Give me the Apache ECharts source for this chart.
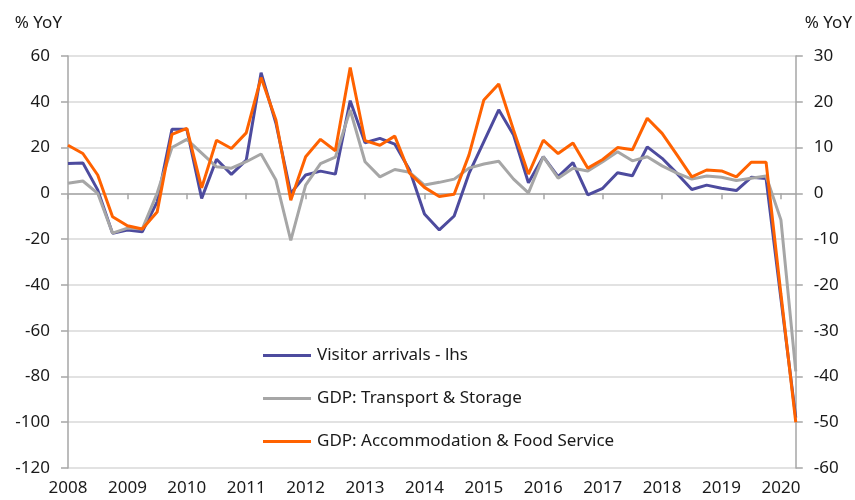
<!DOCTYPE html>
<html>
<head>
<meta charset="utf-8">
<script src="https://cdn.jsdelivr.net/npm/echarts@6/dist/echarts.min.js"></script>
<style>
  html, body { margin: 0; padding: 0; background: #fff; }
  #chart { width: 855px; height: 500px; }
</style>
</head>
<body>
<div id="chart"></div>
<script>
// quarterly, 2008 Q1 .. 2020 Q2
const quarters = []
for (let y = 2008; y <= 2020; y++) {
  for (let q = 1; q <= 4; q++) {
    if (y === 2020 && q > 2) break
    quarters.push(y + ' Q' + q)
  }
}

// % YoY, left axis
const visitorArrivals = [
  13, 13.3, 1.5, -17.5, -16, -16.8, -3.7, 28, 28, -2.2,
  14.9, 8.3, 14.5, 52.7, 30.6, 0, 8, 9.7, 8.4, 40.5,
  22.1, 24, 21.5, 10.2, -9, -16, -9.9, 8.7, 22.6, 36.5,
  25.5, 4.6, 16, 7.3, 13.4, -0.7, 2.2, 9, 7.7, 20.3,
  15.3, 8.7, 1.7, 3.6, 2.2, 1.2, 7, 6.5, -46, -98
]

// % YoY, right axis
const gdpTransport = [
  2.2, 2.7, 0, -8.7, -7.6, -7.8, 0, 10.0, 11.8, 8.8,
  5.8, 5.5, 6.9, 8.6, 2.9, -10.3, 1.8, 6.5, 7.9, 18.2,
  6.9, 3.6, 5.2, 4.6, 1.8, 2.4, 3.1, 5.5, 6.4, 7.0,
  3.1, 0.1, 8.0, 3.3, 5.5, 4.9, 6.9, 9.1, 7.1, 8.0,
  6.0, 4.4, 3.1, 3.8, 3.5, 2.8, 3.3, 3.8, -5.8, -38.9
]

const gdpAccommodation = [
  10.5, 8.7, 4.0, -5.1, -7.1, -7.8, -4.1, 12.9, 14.2, 1.2,
  11.6, 9.8, 13.2, 25.3, 16.0, -1.5, 8.0, 11.8, 9.3, 27.5,
  11.5, 10.5, 12.5, 4.4, 1.3, -0.7, -0.2, 8.4, 20.4, 23.9,
  13.8, 4.2, 11.6, 8.7, 11.0, 5.5, 7.4, 10.0, 9.5, 16.4,
  13.1, 8.4, 3.6, 5.1, 4.9, 3.6, 6.8, 6.8, -22, -50
]

const seriesNames = ['Visitor arrivals - lhs', 'GDP: Transport & Storage', 'GDP: Accommodation & Food Service']

const font = '"Noto Sans", sans-serif'
const textColor = '#1a1a1a'
const axisGrey = '#a6a6a6'

const chart = echarts.init(document.getElementById('chart'))

chart.setOption({
  backgroundColor: '#fff',
  animation: false,
  textStyle: { fontFamily: font },
  grid: { left: 68, right: 56, top: 56, bottom: 32 },
  legend: {
    data: seriesNames,
    orient: 'vertical',
    left: 258,
    top: 342,
    itemWidth: 48,
    itemHeight: 3,
    itemGap: 26,
    icon: 'rect',
    textStyle: { color: textColor, fontSize: 17, fontFamily: font, padding: [0, 0, 0, 1] }
  },
  xAxis: [
    {
      type: 'category',
      data: quarters,
      boundaryGap: false,
      position: 'bottom',
      axisLine: { show: false, onZero: false },
      axisTick: { show: false },
      axisLabel: {
        interval: 3,
        color: textColor,
        fontSize: 17,
        margin: 12,
        formatter: v => v.slice(0, 4)
      }
    },
    {
      type: 'category',
      data: quarters,
      boundaryGap: false,
      position: 'bottom',
      axisLine: { show: true, onZero: true, lineStyle: { color: axisGrey, width: 1.5 } },
      axisTick: { show: true, interval: 3, length: 6, lineStyle: { color: axisGrey, width: 1.5 } },
      axisLabel: { show: false }
    }
  ],
  yAxis: [
    {
      type: 'value',
      min: -120,
      max: 60,
      interval: 20,
      name: '% YoY',
      nameLocation: 'end',
      nameGap: 24,
      nameTextStyle: { color: textColor, fontSize: 17, align: 'right', padding: [0, 6, 0, 0] },
      axisLine: { show: true, lineStyle: { color: axisGrey, width: 1.5 } },
      axisTick: { show: true, length: 7, lineStyle: { color: axisGrey, width: 1.5 } },
      axisLabel: { color: textColor, fontSize: 17, margin: 18 },
      splitLine: { lineStyle: { color: '#d9d9d9', width: 1.5 } }
    },
    {
      type: 'value',
      min: -60,
      max: 30,
      interval: 10,
      position: 'right',
      name: '% YoY',
      nameLocation: 'end',
      nameGap: 24,
      nameTextStyle: { color: textColor, fontSize: 17, align: 'left', padding: [0, 0, 0, 9] },
      axisLine: { show: true, lineStyle: { color: axisGrey, width: 1.5 } },
      axisTick: { show: true, length: 7, lineStyle: { color: axisGrey, width: 1.5 } },
      axisLabel: { color: textColor, fontSize: 17, margin: 18 },
      splitLine: { show: false }
    }
  ],
  series: [
    {
      name: seriesNames[0],
      type: 'line',
      yAxisIndex: 0,
      data: visitorArrivals,
      showSymbol: false,
      itemStyle: { color: '#4d4b9e' },
      lineStyle: { width: 3, color: '#4d4b9e' }
    },
    {
      name: seriesNames[1],
      type: 'line',
      yAxisIndex: 1,
      data: gdpTransport,
      showSymbol: false,
      itemStyle: { color: '#a6a6a6' },
      lineStyle: { width: 3, color: '#a6a6a6' }
    },
    {
      name: seriesNames[2],
      type: 'line',
      yAxisIndex: 1,
      data: gdpAccommodation,
      showSymbol: false,
      itemStyle: { color: '#ff6200' },
      lineStyle: { width: 3, color: '#ff6200' }
    }
  ]
})
</script>
</body>
</html>
